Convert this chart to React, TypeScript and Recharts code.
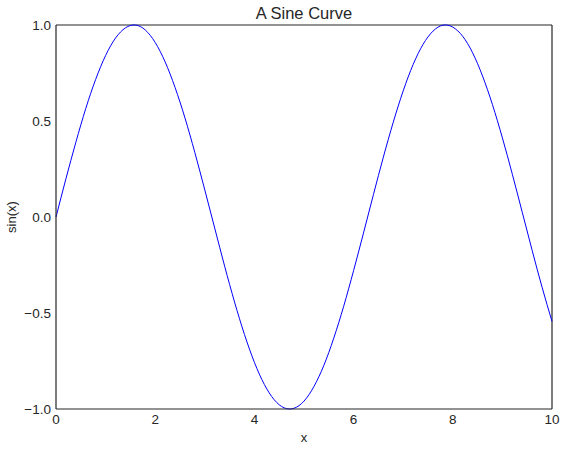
import * as React from "react"
import {
  Line,
  LineChart,
  XAxis,
  YAxis,
  Label,
  ReferenceLine,
} from "recharts"

// x positions sampled along the curve
const xValues = [
  0, 0.2, 0.4, 0.6, 0.8, 1.0, 1.2, 1.4, 1.6, 1.8,
  2.0, 2.2, 2.4, 2.6, 2.8, 3.0, 3.2, 3.4, 3.6, 3.8,
  4.0, 4.2, 4.4, 4.6, 4.8, 5.0, 5.2, 5.4, 5.6, 5.8,
  6.0, 6.2, 6.4, 6.6, 6.8, 7.0, 7.2, 7.4, 7.6, 7.8,
  8.0, 8.2, 8.4, 8.6, 8.8, 9.0, 9.2, 9.4, 9.6, 9.8, 10.0,
]

// values
const yValues = [
  0, 0.199, 0.389, 0.565, 0.717, 0.841, 0.932, 0.985, 1.0, 0.974,
  0.909, 0.808, 0.675, 0.516, 0.335, 0.141, -0.058, -0.256, -0.443, -0.612,
  -0.757, -0.872, -0.952, -0.994, -0.996, -0.959, -0.883, -0.773, -0.631, -0.465,
  -0.279, -0.083, 0.117, 0.312, 0.494, 0.657, 0.794, 0.899, 0.968, 0.999,
  0.989, 0.941, 0.855, 0.734, 0.585, 0.412, 0.223, 0.025, -0.174, -0.366, -0.544,
]

const xTicks = [0, 2, 4, 6, 8, 10]
const yTicks = [-1.0, -0.5, 0.0, 0.5, 1.0]

const data = xValues.map((x, i) => ({ x, y: yValues[i] }))

const font = "'Liberation Sans', Arial, sans-serif"
const frame = "#262626"
const tickStyle = { fontSize: 13.5, fill: "#262626", fontFamily: font }

const fmtY = (v: number) => (v < 0 ? "\u2212" : "") + Math.abs(v).toFixed(1)

export default function App() {
  return (
    <div style={{ position: "absolute", left: 0, top: 0, width: 567, height: 451, background: "#fff", fontFamily: font }}>
      <div
        style={{
          position: "absolute",
          top: 4,
          left: 56,
          width: 496,
          textAlign: "center",
          fontSize: 16.5,
          color: "#262626",
        }}
      >
        A Sine Curve
      </div>
      <LineChart
        width={567}
        height={451}
        data={data}
        margin={{ top: 25, right: 15, bottom: 0, left: 0 }}
      >
        <XAxis
          dataKey="x"
          type="number"
          domain={[0, 10]}
          ticks={xTicks}
          tickLine={false}
          tickSize={0}
          tickMargin={5}
          height={42}
          tick={tickStyle}
          axisLine={{ stroke: frame, strokeWidth: 1.2 }}
        >
          <Label value="x" position="insideBottom" offset={9} style={{ fontSize: 13, fill: "#262626", fontFamily: font }} />
        </XAxis>
        <YAxis
          type="number"
          domain={[-1, 1]}
          ticks={yTicks}
          tickFormatter={fmtY}
          tickLine={false}
          tickSize={0}
          tickMargin={5}
          width={56}
          tick={tickStyle}
          axisLine={{ stroke: frame, strokeWidth: 1.2 }}
        >
          <Label value="sin(x)" angle={-90} position="insideLeft" offset={11} style={{ fontSize: 13, fill: "#262626", fontFamily: font, textAnchor: "middle" }} />
        </YAxis>
        <ReferenceLine y={1} stroke={frame} strokeWidth={1.2} ifOverflow="visible" />
        <ReferenceLine x={10} stroke={frame} strokeWidth={1.2} ifOverflow="visible" />
        <Line
          type="natural"
          dataKey="y"
          stroke="#0000ff"
          strokeWidth={1}
          dot={false}
          isAnimationActive={false}
        />
      </LineChart>
    </div>
  )
}
